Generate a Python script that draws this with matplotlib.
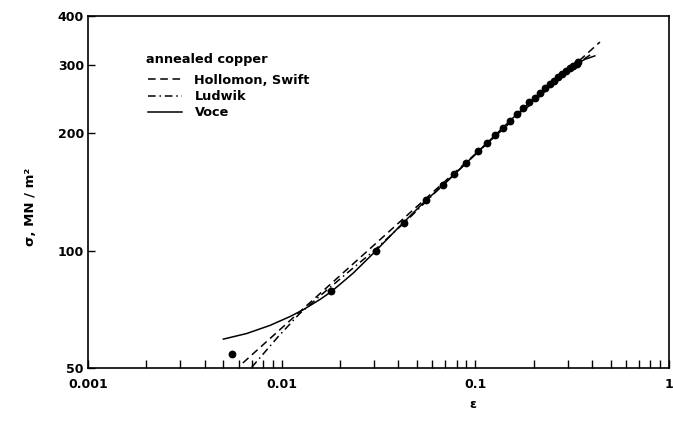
import matplotlib
matplotlib.use("Agg")
import matplotlib.pyplot as plt
from matplotlib.ticker import FixedLocator, NullLocator, NullFormatter
from matplotlib.lines import Line2D

# ---- data ----
# measured points (strain, true stress MN/m^2)
data_eps = [0.00553, 0.0180, 0.0307, 0.0428, 0.0556, 0.068, 0.078, 0.090,
            0.103, 0.115, 0.126, 0.139, 0.151, 0.164, 0.177, 0.190, 0.203,
            0.216, 0.229, 0.242, 0.255, 0.268, 0.281, 0.294, 0.307, 0.320,
            0.333, 0.340]
data_sig = [54.3, 78.8, 100, 118, 135, 147, 157, 168,
            180, 189, 198, 207, 215, 224, 232, 240, 247,
            254, 261, 267, 273, 279, 284, 289, 294, 298,
            302, 304]

# Hollomon / Swift fit (straight line in log-log)
hollomon_eps = [0.0063, 0.44]
hollomon_sig = [51.5, 343]

# Ludwik fit
ludwik_eps = [0.0070, 0.0096, 0.0124, 0.016, 0.022, 0.030, 0.045, 0.070,
              0.100, 0.150, 0.220, 0.300, 0.400]
ludwik_sig = [50.2, 60.2, 69.0, 77.0, 88.0, 100, 120.5, 149.5,
              176.5, 213, 255, 291, 320]

# Voce fit
voce_eps = [0.0050, 0.0066, 0.0087, 0.0110, 0.0129, 0.0158, 0.0181, 0.0233,
            0.0296, 0.040, 0.055, 0.070, 0.090, 0.115, 0.139, 0.164, 0.203,
            0.242, 0.281, 0.333, 0.370, 0.414]
voce_sig = [59.3, 61.3, 64.3, 67.7, 70.5, 75.0, 78.6, 87.4,
            98.2, 114.5, 134, 149, 168, 189, 207, 224, 247,
            267, 284, 302, 310, 316]

x_ticks = [0.001, 0.01, 0.1, 1]
x_labels = ["0.001", "0.01", "0.1", "1"]
y_ticks = [50, 100, 200, 300, 400]
y_labels = ["50", "100", "200", "300", "400"]

legend_title = "annealed copper"
labels = ["Hollomon, Swift", "Ludwik", "Voce"]

# ---- figure ----
fig = plt.figure(figsize=(6.73, 4.21), dpi=100)
ax = fig.add_axes([88/673, 1-368/421, (669-88)/673, (368-16)/421])

lw = 1.1
ax.plot(hollomon_eps, hollomon_sig, color="black", lw=lw, ls=(0, (5, 3)))
ax.plot(ludwik_eps, ludwik_sig, color="black", lw=lw, ls=(0, (5, 2.5, 1, 2.5)))
ax.plot(voce_eps, voce_sig, color="black", lw=lw, ls="-")
ax.plot(data_eps, data_sig, "o", color="black", ms=4.6, zorder=5)

ax.set_xscale("log")
ax.set_yscale("log")
ax.set_xlim(0.001, 1)
ax.set_ylim(50, 400)

ax.xaxis.set_major_locator(FixedLocator(x_ticks))
ax.set_xticklabels(x_labels)
ax.xaxis.set_minor_locator(FixedLocator(
    [m * d for d in [0.001, 0.01, 0.1] for m in range(2, 10)]))
ax.xaxis.set_minor_formatter(NullFormatter())
ax.yaxis.set_major_locator(FixedLocator(y_ticks))
ax.set_yticklabels(y_labels)
ax.yaxis.set_minor_locator(NullLocator())

for lab in ax.get_xticklabels() + ax.get_yticklabels():
    lab.set_fontsize(9)
    lab.set_fontweight("bold")

ax.tick_params(axis="x", which="both", direction="in", length=5.5, width=1.0,
               pad=7, top=False)
ax.tick_params(axis="y", which="major", direction="in", length=5, width=1.0,
               pad=3, right=False)
for s in ax.spines.values():
    s.set_linewidth(1.2)

fig.text(473/673, 1-405/421, "ε", ha="center", va="center",
         fontsize=9, fontweight="bold")
fig.text(30/673, 1-207/421, "σ, MN / m²", ha="center", va="center",
         rotation=90, fontsize=9.5, fontweight="bold")

# legend
ax.text((146-88)/581, (368-59)/352, legend_title, transform=ax.transAxes,
        ha="left", va="center", fontsize=9.3, fontweight="bold")
handles = [Line2D([], [], color="black", lw=lw, ls=(0, (5, 3))),
           Line2D([], [], color="black", lw=lw, ls=(0, (5, 2.5, 1, 2.5))),
           Line2D([], [], color="black", lw=lw, ls="-")]
leg = ax.legend(handles, labels, loc="upper left",
                bbox_to_anchor=((148-88)/581, (368-74)/352),
                frameon=False, prop={"weight": "bold", "size": 9.3},
                handlelength=2.6, handletextpad=1.0, labelspacing=0.25,
                borderpad=0, borderaxespad=0)

fig.savefig("out.png", dpi=100)
